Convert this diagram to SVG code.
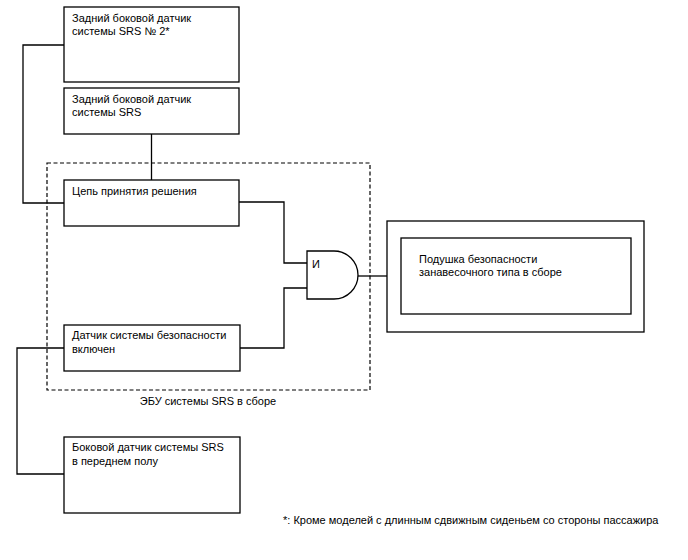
<svg xmlns="http://www.w3.org/2000/svg" width="688" height="560" viewBox="0 0 688 560">
<style>
.box{fill:#fff;stroke:#000;stroke-width:1.3}
.ln{fill:none;stroke:#000;stroke-width:1.3}
.dash{fill:none;stroke:#000;stroke-width:1.2;stroke-dasharray:4 2.5}
text{font-family:"Liberation Sans",Arial,sans-serif;font-size:11px;fill:#000}
</style>
<rect width="688" height="560" fill="#fff"/>
<g id="ecu">
<rect class="dash" x="47" y="163" width="323" height="227"/>
<text x="208" y="405" text-anchor="middle">ЭБУ системы SRS в сборе</text>
</g>
<g id="connectors">
<polyline class="ln" points="64,45 23,45 23,203 64,203"/>
<line class="ln" x1="151.5" y1="134" x2="151.5" y2="180"/>
<polyline class="ln" points="239,202 284,202 284,263 307,263"/>
<polyline class="ln" points="240,348 284,348 284,288 307,288"/>
<line class="ln" x1="358" y1="276" x2="387" y2="276"/>
<polyline class="ln" points="64,348 17,348 17,474 64,474"/>
</g>
<g id="rear2">
<rect class="box" x="64" y="7" width="175" height="75"/>
<text x="72" y="22">Задний боковой датчик</text>
<text x="72" y="35">системы SRS № 2*</text>
</g>
<g id="rear">
<rect class="box" x="64" y="88" width="175" height="46"/>
<text x="72" y="103">Задний боковой датчик</text>
<text x="72" y="116">системы SRS</text>
</g>
<g id="decision">
<rect class="box" x="64" y="180" width="175" height="46"/>
<text x="72" y="195">Цепь принятия решения</text>
</g>
<g id="safing">
<rect class="box" x="64" y="325" width="176" height="46"/>
<text x="72" y="339">Датчик системы безопасности</text>
<text x="72" y="353">включен</text>
</g>
<g id="front">
<rect class="box" x="64" y="437" width="176" height="76"/>
<text x="72" y="451">Боковой датчик системы SRS</text>
<text x="72" y="465">в переднем полу</text>
</g>
<g id="and">
<path class="box" d="M307,251 H334 A24,24 0 0 1 334,299 H307 Z"/>
<text x="312" y="268">И</text>
</g>
<g id="airbag">
<rect class="box" x="387" y="221" width="257" height="111"/>
<rect class="box" x="401" y="238" width="230" height="76"/>
<text x="419" y="263">Подушка безопасности</text>
<text x="419" y="276">занавесочного типа в сборе</text>
</g>
<g id="note">
<text x="283" y="524">*: Кроме моделей с длинным сдвижным сиденьем со стороны пассажира</text>
</g>
</svg>
